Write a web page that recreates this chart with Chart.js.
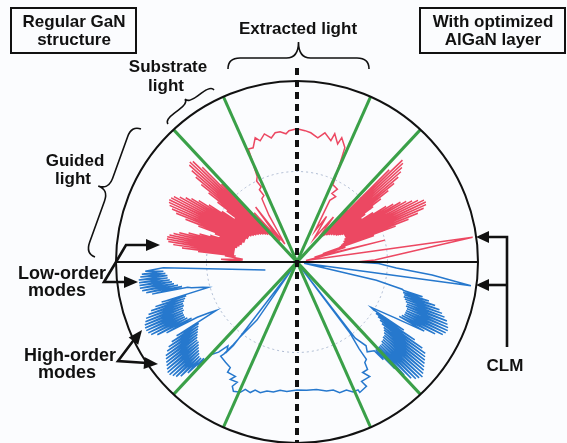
<!DOCTYPE html>
<html><head><meta charset="utf-8">
<script src="https://cdn.jsdelivr.net/npm/chart.js@4"></script>
<style>html,body{margin:0;padding:0;background:#fbfcfe;}canvas{display:block;}</style>
</head><body>
<canvas id="c" width="567" height="443"></canvas>
<script>
// ---- data: [angle in degrees (0 = right, 90 = up), radius as fraction of outer circle] ----
const redPattern = [
[0,0.33],[1.5,0.43],[8,0.98],[9.5,0.05],[14,0.5],[15,0.1],[17,0.28],[18,0.15],
[19,0.45],[19.5,0.25],[20,0.58],[20.5,0.26],[21,0.66],[21.5,0.27],[22,0.72],[22.5,0.28],[23,0.76],[23.5,0.28],[24,0.78],[24.5,0.29],[25,0.785],[25.5,0.29],[26,0.78],[26.5,0.3],[27,0.75],[27.5,0.3],[28,0.72],[28.5,0.3],[29,0.69],[29.5,0.3],[30,0.66],[30.5,0.3],[31,0.62],[31.5,0.29],[32,0.58],[32.5,0.28],[33,0.5],[33.5,0.27],[34,0.43],[34.5,0.26],
[35,0.46],[35.5,0.26],[36,0.52],[36.5,0.25],[37,0.58],[37.5,0.25],[38,0.64],[38.5,0.24],[39,0.69],[39.5,0.24],[40,0.73],[40.5,0.23],[41,0.76],[41.5,0.23],[42,0.78],[42.5,0.22],[43,0.8],[43.5,0.22],[44,0.81],[44.5,0.21],[45,0.72],[45.5,0.2],[46,0.4],
[48,0.18],[51,0.32],[54,0.16],[57,0.3],[60,0.2],[62,0.386],[59.4,0.42],[63,0.425],[61,0.46],[65,0.47],[65.5,0.5],[66,0.55],[66.8,0.63],
[67.3,0.685],[70.2,0.73],[71,0.69],[73.6,0.739],[74.4,0.696],[77.8,0.73],[80.5,0.696],[83.9,0.718],[86.5,0.727],[90,0.736],[93.5,0.727],[94.9,0.711],[97.4,0.726],[99.6,0.724],[101.7,0.7],[104.3,0.73],[106.9,0.7],[108.6,0.724],[111,0.676],[113.3,0.68],
[114,0.6],[115,0.52],[116.5,0.5],[115.5,0.46],[117.5,0.45],[116.5,0.41],[119,0.4],[121,0.3],[124,0.12],[127,0.38],[128.5,0.15],[131,0.36],[132,0.2],
[133,0.4],[133.5,0.2],[134,0.6],[134.5,0.21],[135,0.74],[135.5,0.22],[136,0.8],[136.5,0.22],[137,0.81],[137.5,0.23],[138,0.8],[138.5,0.23],[139,0.77],[139.5,0.24],[140,0.73],[140.5,0.24],[141,0.68],[141.5,0.25],[142,0.62],[142.5,0.25],[143,0.55],[143.5,0.26],[144,0.48],[144.5,0.26],[145,0.42],[145.5,0.27],
[146,0.5],[146.5,0.27],[147,0.58],[147.5,0.28],[148,0.64],[148.5,0.28],[149,0.68],[149.5,0.29],[150,0.71],[150.5,0.29],[151,0.74],[151.5,0.3],[152,0.77],[152.5,0.3],[153,0.78],[153.5,0.3],[154,0.785],[154.5,0.3],[155,0.78],[155.5,0.31],[156,0.77],[156.5,0.31],[157,0.75],[157.5,0.31],[158,0.72],[158.5,0.31],[159,0.66],[159.5,0.31],[160,0.58],[160.5,0.32],[161,0.48],[161.5,0.32],
[162,0.45],[162.5,0.32],[163,0.5],[163.5,0.33],[164,0.56],[164.5,0.33],[165,0.62],[165.5,0.34],[166,0.67],[166.5,0.34],[167,0.7],[167.5,0.35],[168,0.72],[168.5,0.35],[169,0.73],[169.5,0.35],[170,0.73],[170.5,0.35],[171,0.72],[171.5,0.35],[172,0.69],[172.5,0.35],[173,0.64],[173.5,0.35],[174,0.55],[174.5,0.34],[175,0.4],[177,0.3],[178,0.42],[179,0.3],[180,0.46]
];
const bluePattern = [
[-166,0.18],[-177.5,0.74],
[-176.5,0.84],[-176,0.74],[-175.5,0.86],[-175,0.73],[-174.5,0.87],[-174,0.72],[-173.5,0.88],[-173,0.72],[-172.5,0.88],[-172,0.71],[-171.5,0.88],[-171,0.7],[-170.5,0.88],[-170,0.69],[-169.5,0.87],[-169,0.67],[-168.5,0.85],[-168,0.65],[-167.5,0.82],[-167,0.62],[-166.3,0.6],[-165,0.54],[-164,0.51],
[-163.5,0.78],[-163,0.64],[-162.5,0.82],[-162,0.65],[-161.5,0.85],[-161,0.66],[-160.5,0.87],[-160,0.67],[-159.5,0.89],[-159,0.67],[-158.5,0.9],[-158,0.68],[-157.5,0.91],[-157,0.68],[-156.5,0.915],[-156,0.69],[-155.5,0.915],[-155,0.69],[-154.5,0.91],[-154,0.69],[-153.5,0.9],[-153,0.68],[-152.5,0.87],[-152,0.66],[-151.5,0.82],[-151,0.63],[-150,0.56],[-149,0.52],
[-148.5,0.78],[-148,0.64],[-147.5,0.82],[-147,0.65],[-146.5,0.85],[-146,0.66],[-145.5,0.87],[-145,0.67],[-144.5,0.89],[-144,0.68],[-143.5,0.9],[-143,0.69],[-142.5,0.91],[-142,0.7],[-141.5,0.92],[-141,0.7],[-140.5,0.93],[-140,0.71],[-139.5,0.94],[-139,0.72],[-138.5,0.94],[-138,0.73],[-137.5,0.93],[-137,0.74],[-136.5,0.92],[-136,0.75],[-135.5,0.9],[-135,0.75],[-134.5,0.86],[-134,0.74],[-133.5,0.8],[-133,0.7],
[-131,0.66],[-129.5,0.6],[-128,0.63],[-127.3,0.58],[-125,0.04],
[-124.6,0.39],[-127.2,0.52],[-127.6,0.576],[-128.5,0.65],[-129,0.67],[-125.5,0.68],[-122.3,0.69],[-122.2,0.72],[-118.3,0.718],[-119.6,0.746],[-116.4,0.742],[-117.5,0.774],[-116.2,0.796],[-113.5,0.785],
[-112.1,0.759],[-109.7,0.766],[-108.1,0.744],[-105.7,0.75],[-103.1,0.732],[-100.3,0.73],[-97.5,0.715],[-94.5,0.717],[-90,0.707],[-85.7,0.711],[-81.3,0.712],[-77.1,0.731],[-74.2,0.735],[-71.9,0.759],[-68.9,0.758],[-66.7,0.782],[-64.5,0.783],
[-64.3,0.8],[-60.8,0.787],[-61.6,0.75],[-57.6,0.75],[-59.3,0.71],[-56.7,0.71],[-56,0.67],[-54.5,0.66],[-54.4,0.59],[-53.3,0.49],[-55,0.04],
[-52.6,0.53],[-50.5,0.6],[-52,0.63],[-49,0.65],
[-48.5,0.72],[-48,0.65],[-47.5,0.8],[-47,0.65],[-46.5,0.86],[-46,0.65],[-45.5,0.9],[-45,0.65],[-44.5,0.92],[-44,0.65],[-43.5,0.93],[-43,0.64],[-42.5,0.94],[-42,0.64],[-41.5,0.93],[-41,0.63],[-40.5,0.92],[-40,0.63],[-39.5,0.91],[-39,0.62],[-38.5,0.9],[-38,0.61],[-37.5,0.89],[-37,0.6],[-36.5,0.88],[-36,0.58],[-35.5,0.87],[-35,0.56],[-34.5,0.84],[-34,0.54],[-33.5,0.78],[-33,0.52],[-32.5,0.7],[-32,0.5],[-31.5,0.48],
[-29.7,0.62],[-28.5,0.8],[-28,0.64],[-27.5,0.86],[-27,0.65],[-26.5,0.9],[-26,0.66],[-25.5,0.91],[-25,0.66],[-24.5,0.915],[-24,0.66],[-23.5,0.91],[-23,0.66],[-22.5,0.9],[-22,0.65],[-21.5,0.89],[-21,0.65],[-20.5,0.87],[-20,0.64],[-19.5,0.85],[-19,0.63],[-18.5,0.83],[-18,0.62],[-17.5,0.8],[-17,0.62],[-16.5,0.76],[-16,0.61],[-15.5,0.72],[-15,0.61],[-14.5,0.6],
[-13,0.45],[-10,0.04],[-7.8,0.97],[-5.5,0.75],[-3.4,0.55],[-1,0.45],[0,0.33]
];
const greenAngles = [47, 66, 114, 133];      // escape-cone boundaries (each line passes through the centre)
const innerCircleRadius = 0.5;
const dashedAxisTop = 1.072;
const labels = {
  leftBox: ['Regular GaN', 'structure'],
  rightBox: ['With optimized', 'AlGaN layer'],
  extracted: 'Extracted light',
  substrate: ['Substrate', 'light'],
  guided: ['Guided', 'light'],
  lowOrder: ['Low-order', 'modes'],
  highOrder: ['High-order', 'modes'],
  clm: 'CLM'
};

// ---- helpers ----
const rad = d => d * Math.PI / 180;
const polar = ([a, r]) => ({ x: r * Math.cos(rad(a)), y: r * Math.sin(rad(a)) });

const RED = 'rgb(236,72,98)';
const BLUE = 'rgb(38,120,205)';
const GREEN = 'rgb(58,160,72)';

const datasets = [];
datasets.push({ data: [{x:0,y:dashedAxisTop},{x:0,y:-1.05}], borderColor:'#111', borderWidth:4, borderDash:[7,5], order:0 });
datasets.push({ data: [polar([180,1]), polar([0,1])], borderColor:'#111', borderWidth:2, order:1 });
greenAngles.forEach(a => datasets.push({ data: [polar([a,1]), polar([a+180,1])], borderColor: GREEN, borderWidth:3, order:2 }));
datasets.push({ data: bluePattern.map(polar), borderColor: BLUE, borderWidth:1.5, order:3 });
datasets.push({ data: redPattern.map(polar), borderColor: RED, borderWidth:1.5, order:4 });
datasets.forEach(d => { d.showLine = true; d.pointRadius = 0; d.fill = false; d.tension = 0; d.borderCapStyle = 'butt'; });

function brace(ctx, x1, y1, x2, y2, depth, shoulder) {
  const dx = x2 - x1, dy = y2 - y1, L = Math.hypot(dx, dy);
  const ux = dx / L, uy = dy / L, nx = -uy, ny = ux;
  const P = (u, v) => [x1 + ux * u + nx * v, y1 + uy * u + ny * v];
  const q = Math.min(12, L / 4), h = shoulder;
  ctx.beginPath();
  ctx.moveTo(...P(0, 0));
  ctx.quadraticCurveTo(...P(0, h), ...P(q, h));
  ctx.lineTo(...P(L / 2 - q, h));
  ctx.quadraticCurveTo(...P(L / 2, h), ...P(L / 2, depth));
  ctx.quadraticCurveTo(...P(L / 2, h), ...P(L / 2 + q, h));
  ctx.lineTo(...P(L - q, h));
  ctx.quadraticCurveTo(...P(L, h), ...P(L, 0));
  ctx.stroke();
}
function head(ctx, fx, fy, tx, ty, len, half) {
  const L = Math.hypot(tx - fx, ty - fy), ux = (tx - fx) / L, uy = (ty - fy) / L;
  const bx = tx - ux * len, by = ty - uy * len;
  ctx.beginPath();
  ctx.moveTo(tx, ty);
  ctx.lineTo(bx - uy * half, by + ux * half);
  ctx.lineTo(bx + uy * half, by - ux * half);
  ctx.closePath(); ctx.fill();
}
function poly(ctx, pts) {
  ctx.beginPath(); ctx.moveTo(pts[0][0], pts[0][1]);
  for (let i = 1; i < pts.length; i++) ctx.lineTo(pts[i][0], pts[i][1]);
  ctx.stroke();
}

const decor = {
  id: 'decor',
  beforeDatasetsDraw(chart) {
    const { ctx, scales: { x, y } } = chart;
    const cx = x.getPixelForValue(0), cy = y.getPixelForValue(0), R = x.getPixelForValue(1) - cx;
    ctx.save();
    ctx.strokeStyle = 'rgba(165,180,205,0.9)'; ctx.lineWidth = 1; ctx.setLineDash([2, 3]);
    ctx.beginPath(); ctx.arc(cx, cy, R * innerCircleRadius, 0, 2 * Math.PI); ctx.stroke();
    ctx.restore();
  },
  afterDatasetsDraw(chart) {
    const { ctx, scales: { x, y } } = chart;
    const cx = x.getPixelForValue(0), cy = y.getPixelForValue(0), R = x.getPixelForValue(1) - cx;
    ctx.save();
    ctx.strokeStyle = '#111'; ctx.fillStyle = '#111';
    ctx.lineWidth = 2;
    ctx.beginPath(); ctx.arc(cx, cy, R, 0, 2 * Math.PI); ctx.stroke();
    // boxes
    ctx.strokeRect(11, 8, 125, 45);
    ctx.strokeRect(420, 8, 145, 45);
    // text
    ctx.font = 'bold 17px "Liberation Sans", Arial, sans-serif';
    ctx.textAlign = 'center'; ctx.textBaseline = 'middle';
    const t = (s, px, py) => ctx.fillText(s, px, py);
    t(labels.leftBox[0], 74, 22); t(labels.leftBox[1], 74, 40);
    t(labels.rightBox[0], 493, 22); t(labels.rightBox[1], 493, 40);
    t(labels.extracted, 298, 29);
    t(labels.substrate[0], 168, 67); t(labels.substrate[1], 166, 86);
    t(labels.guided[0], 75, 161); t(labels.guided[1], 73, 179);
    ctx.font = 'bold 18px "Liberation Sans", Arial, sans-serif';
    t(labels.lowOrder[0], 62, 274); t(labels.lowOrder[1], 57, 291);
    t(labels.highOrder[0], 70, 356); t(labels.highOrder[1], 67, 373);
    ctx.font = 'bold 17px "Liberation Sans", Arial, sans-serif';
    t(labels.clm, 505, 366);
    // braces
    ctx.lineWidth = 1.6;
    brace(ctx, 228, 69, 369, 69, -27, -11);
    brace(ctx, 168, 124, 214, 90, -10, -5);
    brace(ctx, 141, 129, 95, 257, 21, 10);
    // arrows
    ctx.lineWidth = 2.6; ctx.lineJoin = 'miter';
    poly(ctx, [[148,245],[126,245],[116,262],[104,282],[128,282]]);
    head(ctx, 126,245, 160,245, 14, 6);
    head(ctx, 104,282, 138,282, 14, 6);
    poly(ctx, [[136,337],[118,361],[147,363]]);
    head(ctx, 118,361, 142,330, 14, 6);
    head(ctx, 118,361, 158,364, 14, 6);
    poly(ctx, [[486,237],[507,237],[507,347]]);
    poly(ctx, [[507,285],[486,285]]);
    head(ctx, 507,237, 476,237, 13, 6);
    head(ctx, 507,285, 476,285, 13, 6);
    ctx.restore();
  }
};

const CX = 297, CY = 262, RP = 181, W = 567, H = 443;
new Chart(document.getElementById('c'), {
  type: 'scatter',
  data: { datasets },
  options: {
    responsive: false, animation: false,
    layout: { padding: 0 },
    plugins: { legend: { display: false }, tooltip: { enabled: false } },
    scales: {
      x: { type: 'linear', display: false, min: -CX / RP, max: (W - CX) / RP },
      y: { type: 'linear', display: false, min: -(H - CY) / RP, max: CY / RP }
    }
  },
  plugins: [decor]
});
</script>
</body></html>
